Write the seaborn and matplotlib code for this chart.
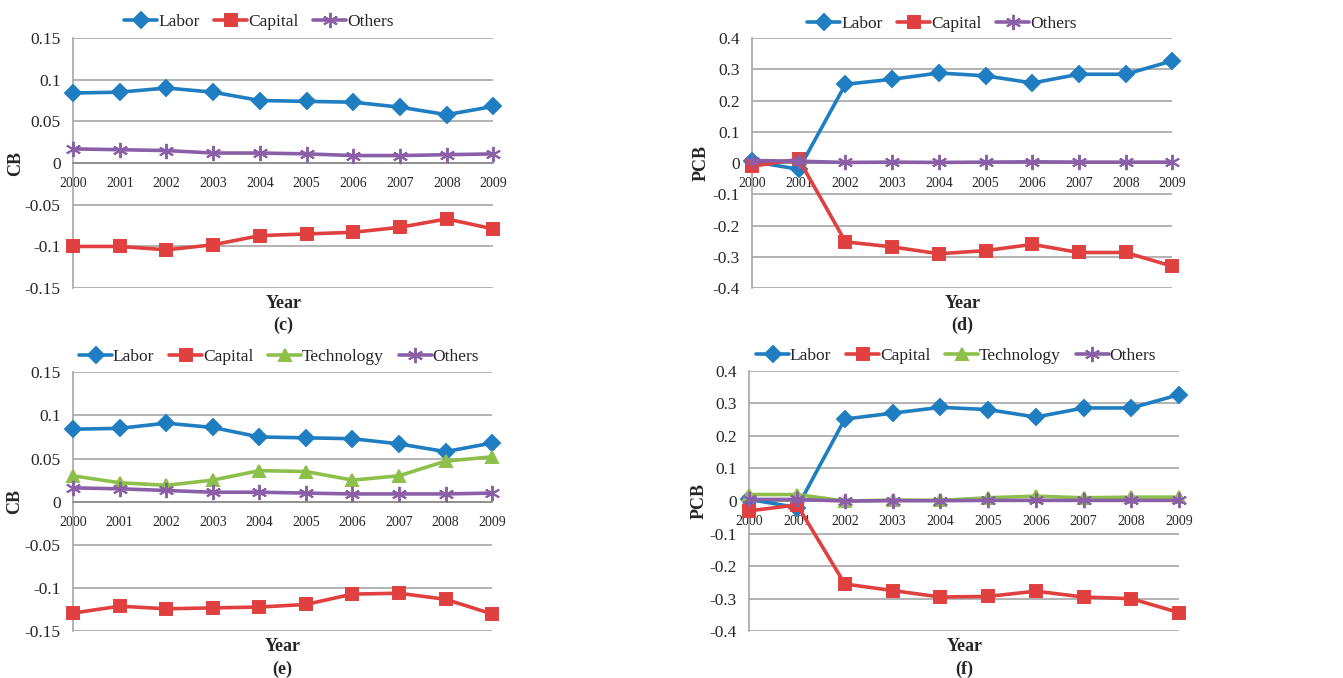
import numpy as np
import pandas as pd
import matplotlib
matplotlib.use("Agg")
import matplotlib.pyplot as plt
import seaborn as sns
from matplotlib.lines import Line2D

years = ["2000", "2001", "2002", "2003", "2004", "2005", "2006", "2007", "2008", "2009"]

# Panel (c): CB, three factors
c_labor = [0.084, 0.085, 0.090, 0.085, 0.075, 0.074, 0.073, 0.067, 0.058, 0.068]
c_capital = [-0.100, -0.100, -0.104, -0.098, -0.087, -0.085, -0.083, -0.077, -0.067, -0.079]
c_others = [0.017, 0.016, 0.015, 0.012, 0.012, 0.011, 0.009, 0.009, 0.010, 0.011]

# Panel (d): PCB, three factors
d_labor = [0.005, -0.020, 0.252, 0.268, 0.288, 0.279, 0.256, 0.284, 0.284, 0.327]
d_capital = [-0.010, 0.012, -0.252, -0.268, -0.290, -0.280, -0.260, -0.286, -0.286, -0.330]
d_others = [0.008, 0.006, 0.002, 0.003, 0.002, 0.003, 0.004, 0.003, 0.003, 0.003]

# Panel (e): CB, four factors
e_labor = [0.084, 0.085, 0.091, 0.086, 0.075, 0.074, 0.073, 0.067, 0.058, 0.068]
e_capital = [-0.129, -0.121, -0.124, -0.123, -0.122, -0.119, -0.107, -0.106, -0.113, -0.130]
e_tech = [0.030, 0.022, 0.019, 0.025, 0.036, 0.035, 0.025, 0.030, 0.047, 0.052]
e_others = [0.016, 0.015, 0.013, 0.011, 0.011, 0.010, 0.009, 0.009, 0.009, 0.010]

# Panel (f): PCB, four factors
f_labor = [0.005, -0.020, 0.252, 0.270, 0.288, 0.281, 0.258, 0.286, 0.286, 0.327]
f_capital = [-0.030, -0.012, -0.255, -0.275, -0.295, -0.293, -0.277, -0.295, -0.300, -0.343]
f_tech = [0.020, 0.020, 0.000, 0.003, 0.002, 0.010, 0.015, 0.010, 0.012, 0.012]
f_others = [0.005, 0.005, 0.000, 0.001, 0.001, 0.002, 0.002, 0.002, 0.002, 0.002]

cb_ticks = [0.15, 0.1, 0.05, 0, -0.05, -0.1, -0.15]
pcb_ticks = [0.4, 0.3, 0.2, 0.1, 0, -0.1, -0.2, -0.3, -0.4]

sns.set_style("white")
plt.rcParams["font.family"] = ["Liberation Serif", "DejaVu Serif"]

STYLE = {
    "Labor": dict(color="#1F7EC1", marker="D", ms=8.5),
    "Capital": dict(color="#E0403F", marker="s", ms=9),
    "Technology": dict(color="#8DC04B", marker="^", ms=9),
    "Others": dict(color="#8B5FA8", marker=(6, 2, 0), ms=11),
}

fig = plt.figure(figsize=(13.43, 6.78), dpi=100)

panels = [
    # rect, series, ylabel, ticks, tag, legend center (fig frac), ylabel x (axes frac)
    ([0.0544, 0.575, 0.313, 0.369], [("Labor", c_labor), ("Capital", c_capital), ("Others", c_others)],
     "CB", cb_ticks, "(c)", 259 / 1343, 1 - 22 / 678, -0.117),
    ([0.560, 0.575, 0.313, 0.369], [("Labor", d_labor), ("Capital", d_capital), ("Others", d_others)],
     "PCB", pcb_ticks, "(d)", 942 / 1343, 1 - 24 / 678, -0.100),
    ([0.0544, 0.069, 0.312, 0.382], [("Labor", e_labor), ("Capital", e_capital), ("Technology", e_tech), ("Others", e_others)],
     "CB", cb_ticks, "(e)", 279 / 1343, 1 - 357 / 678, -0.119),
    ([0.558, 0.069, 0.320, 0.384], [("Labor", f_labor), ("Capital", f_capital), ("Technology", f_tech), ("Others", f_others)],
     "PCB", pcb_ticks, "(f)", 956 / 1343, 1 - 356 / 678, -0.098),
]

for rect, series, ylab, ticks, tag, lx, ly, ylx in panels:
    ax = fig.add_axes(rect)
    x = np.arange(len(years))
    handles = []
    for name, vals in series:
        st = STYLE[name]
        df = pd.DataFrame({"x": x, "y": vals})
        sns.lineplot(data=df, x="x", y="y", ax=ax, color=st["color"], lw=2.6,
                     marker=st["marker"], markersize=st["ms"],
                     markeredgecolor=st["color"], markerfacecolor=st["color"],
                     markeredgewidth=1.4, legend=False, zorder=3, clip_on=False)
        handles.append(Line2D([], [], color=st["color"], lw=2.6, marker=st["marker"],
                              markersize=st["ms"], markeredgecolor=st["color"],
                              markerfacecolor=st["color"], markeredgewidth=1.4, label=name))
    ax.set_xlim(0, len(years) - 1)
    ax.set_ylim(min(ticks), max(ticks))
    ax.set_yticks(ticks)
    ax.set_yticklabels([("%g" % t) for t in ticks], fontsize=12.5)
    ax.yaxis.grid(True, color="#A6A6A6", lw=1.2)
    ax.set_axisbelow(True)
    ax.set_xticks(x)
    ax.set_xticklabels(years, fontsize=10)
    ax.spines["bottom"].set_position(("data", 0))
    ax.spines["bottom"].set_color("#8C8C8C")
    ax.spines["bottom"].set_linewidth(1.2)
    ax.spines["left"].set_color("#A6A6A6")
    ax.spines["left"].set_linewidth(1.2)
    ax.spines["top"].set_visible(False)
    ax.spines["right"].set_visible(False)
    ax.tick_params(axis="y", length=0, pad=9)
    ax.tick_params(axis="x", length=0, pad=10)
    ax.set_xlabel("")
    ax.set_ylabel(ylab, fontsize=13, fontweight="bold")
    ax.yaxis.set_label_coords(ylx, 0.5)
    ax.text(0.5, -0.06, "Year", transform=ax.transAxes, ha="center", va="center",
            fontsize=13, fontweight="bold")
    ax.text(0.5, -0.148, tag, transform=ax.transAxes, ha="center", va="center",
            fontsize=13, fontweight="bold")
    fig.legend(handles=handles, loc="center", bbox_to_anchor=(lx, ly), ncol=len(handles),
               frameon=False, fontsize=12.5, handlelength=1.9, handletextpad=0.05,
               columnspacing=0.85, borderaxespad=0)

fig.savefig("out.png", dpi=100)
